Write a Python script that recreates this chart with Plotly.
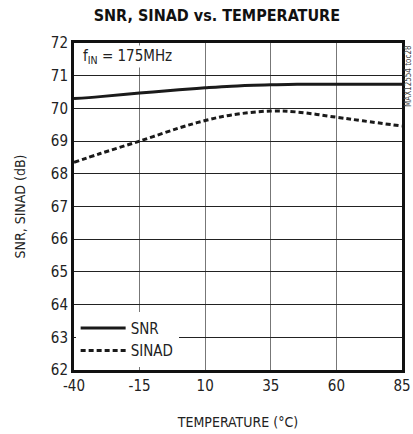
import plotly.graph_objects as go

temp = [-40, -30, -15, 0, 10, 20, 35, 45, 60, 70, 85]
snr = [70.30, 70.36, 70.47, 70.57, 70.63, 70.68, 70.72, 70.74, 70.74, 70.74, 70.74]
sinad = [68.35, 68.62, 69.00, 69.40, 69.63, 69.80, 69.92, 69.89, 69.73, 69.62, 69.46]
x_ticks = [-40, -15, 10, 35, 60, 85]
x_tick_labels = ["-40", "-15", "10", "35", "60", "85"]
y_ticks = list(range(62, 73))

FONT = "DejaVu Sans Condensed, Liberation Sans Narrow, Arial Narrow, Liberation Sans"

fig = go.Figure()
fig.add_trace(go.Scatter(x=temp, y=snr, mode="lines", name="SNR",
                         line=dict(color="#1a1a1a", width=3, shape="spline")))
fig.add_trace(go.Scatter(x=temp, y=sinad, mode="lines", name="SINAD",
                         line=dict(color="#1a1a1a", width=3, dash="5px,3px", shape="spline")))

fig.update_layout(
    width=413, height=434,
    margin=dict(l=74, r=11, t=43, b=64),
    paper_bgcolor="white", plot_bgcolor="white",
    font=dict(family=FONT, color="#222", size=15),
    title=dict(text="<b>SNR, SINAD vs. TEMPERATURE</b>", x=0.525, xanchor="center",
               y=0.965, yanchor="middle", font=dict(family=FONT, size=16, color="#111")),
    xaxis=dict(range=[-40, 85], tickvals=x_ticks, ticktext=x_tick_labels, automargin=False,
               showgrid=True, gridcolor="#777", gridwidth=1.2,
               zeroline=False, showline=True, linecolor="#111", linewidth=3, mirror=True,
               ticks="", tickfont=dict(size=15),
               title=dict(text="TEMPERATURE (°C)", font=dict(size=14), standoff=24)),
    yaxis=dict(range=[62, 72], tickvals=y_ticks, automargin=False,
               showgrid=True, gridcolor="#222", gridwidth=1,
               zeroline=False, showline=True, linecolor="#111", linewidth=3, mirror=True,
               ticks="", tickfont=dict(size=15),
               title=dict(text="SNR, SINAD (dB)", font=dict(size=14), standoff=22)),
    legend=dict(x=0.005, y=0.01, xanchor="left", yanchor="bottom", bgcolor="white",
                font=dict(size=15), tracegroupgap=0, itemwidth=45,
                traceorder="normal"),
    showlegend=True,
)

fig.add_annotation(text="f<sub>IN</sub> = 175MHz", xref="paper", yref="paper", x=0.02, y=0.995,
                   xanchor="left", yanchor="top", showarrow=False, bgcolor="white",
                   font=dict(size=15, family=FONT))
fig.add_annotation(text="MAX12554 toc28", xref="paper", yref="paper", x=1.0, y=1.0,
                   xanchor="center", yanchor="top", xshift=6, textangle=-90, showarrow=False,
                   font=dict(size=8, family=FONT, color="#444"))

fig.write_html("out.html", config={"displayModeBar": False},
               post_script="document.body.style.margin='0';document.body.style.overflow='hidden';")
